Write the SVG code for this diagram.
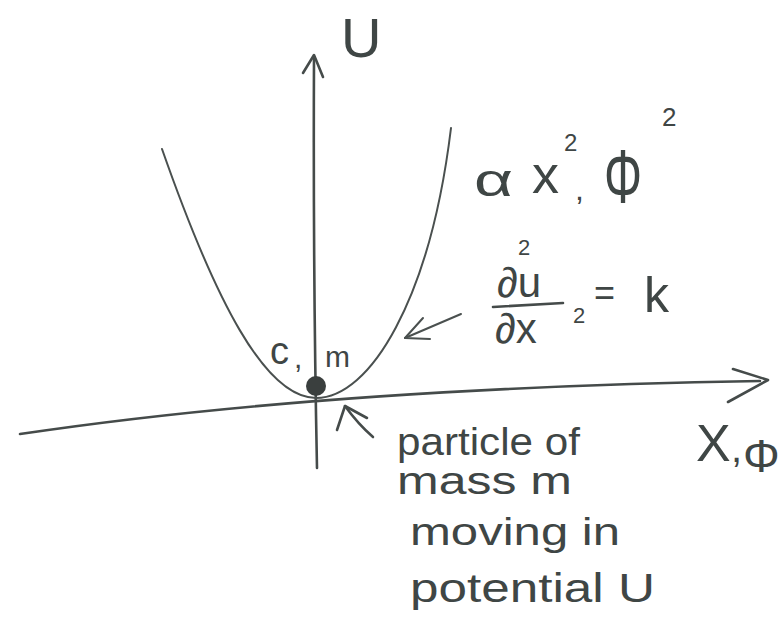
<svg xmlns="http://www.w3.org/2000/svg" width="782" height="620" viewBox="0 0 782 620">
<style>
.ln{fill:none;stroke:#454b4a;stroke-width:2.6;stroke-linecap:round;stroke-linejoin:round}
.thin{fill:none;stroke:#4a504f;stroke-width:2;stroke-linecap:round;stroke-linejoin:round}
.t{font-family:"Liberation Sans","DejaVu Sans",sans-serif;fill:#3f4645}
</style>
<rect width="782" height="620" fill="#ffffff"/>
<g id="y-axis">
<path class="ln" d="M317,468 Q313,270 314,58"/>
<polyline class="ln" points="303,73 314,55 323,77"/>
<text class="t" x="341" y="57" font-size="56">U</text>
</g>
<g id="x-axis">
<path class="ln" d="M20,434 Q330,388 760,381"/>
<polyline class="ln" points="733,369 768,380 728,402"/>
<text class="t" x="696" y="461" font-size="52">X</text>
<text class="t" x="731" y="462" font-size="40">,</text>
<text class="t" x="743" y="472" font-size="46">Φ</text>
</g>
<g id="potential-curve">
<path class="thin" d="M162,149 C215,300 265,398 316,398 C370,398 430,300 451,128"/>
</g>
<g id="particle">
<circle cx="316" cy="386" r="10" fill="#3a3f3e"/>
<text class="t" x="270" y="364" font-size="38">c</text>
<text class="t" x="294" y="368" font-size="30">,</text>
<text class="t" x="325" y="367" font-size="30">m</text>
</g>
<g id="label-proportional">
<text class="t" x="474" y="196" font-size="46" textLength="39" lengthAdjust="spacingAndGlyphs">α</text>
<text class="t" x="532" y="193" font-size="54">x</text>
<text class="t" x="564" y="151" font-size="24">2</text>
<text class="t" x="575" y="200" font-size="32">,</text>
<text class="t" x="604" y="203" font-size="76" textLength="38" lengthAdjust="spacingAndGlyphs">Φ</text>
<text class="t" x="662" y="126" font-size="26">2</text>
</g>
<g id="label-curvature">
<text class="t" x="518" y="255" font-size="22">2</text>
<text class="t" x="497" y="297" font-size="42">∂u</text>
<line class="ln" x1="493" y1="307" x2="563" y2="303"/>
<text class="t" x="495" y="343" font-size="42">∂x</text>
<text class="t" x="573" y="323" font-size="22">2</text>
<text class="t" x="594" y="305" font-size="36">=</text>
<text class="t" x="644" y="312" font-size="50">k</text>
</g>
<g id="label-particle">
<text class="t" x="397" y="455" font-size="38" textLength="183" lengthAdjust="spacingAndGlyphs">particle of</text>
<text class="t" x="397" y="494" font-size="38" textLength="175" lengthAdjust="spacingAndGlyphs">mass m</text>
<text class="t" x="410" y="545" font-size="38" textLength="210" lengthAdjust="spacingAndGlyphs">moving in</text>
<text class="t" x="410" y="602" font-size="40" textLength="245" lengthAdjust="spacingAndGlyphs">potential U</text>
</g>
<g id="connectors">
<path class="thin" d="M461,314 L405,338"/>
<polyline class="thin" points="423,318 405,338 430,339"/>
<path class="ln" d="M345,406 Q358,424 373,437"/>
<polyline class="ln" points="337,430 345,406 367,418"/>
</g>
</svg>
